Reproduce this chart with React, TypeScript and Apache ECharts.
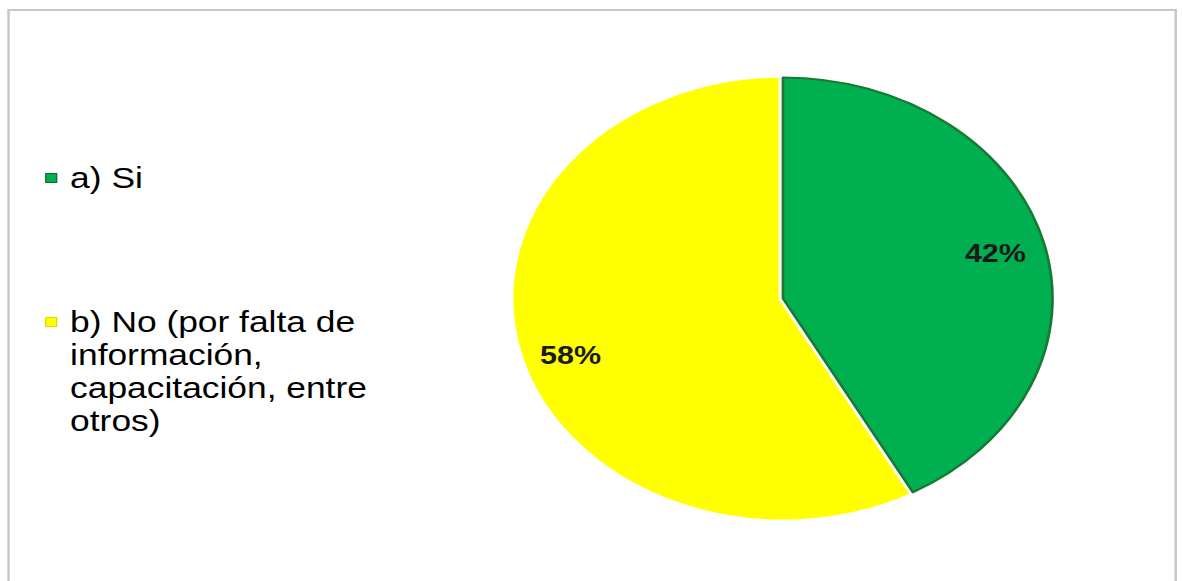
import React, { useEffect, useRef } from "react";
import * as echarts from "echarts";

const categories = [
  "a) Si",
  "b) No (por falta de información, capacitación, entre otros)",
];
const values = [42, 58];
const colors = ["#00b050", "#ffff00"];
const edgeColors = ["#177a32", "#ecec00"];

const S = 1.2196;
const W = 970;
const H = 581;
const FONT = "'Liberation Sans', Arial, sans-serif";

function wrap(text: string, maxChars: number): string {
  const words = text.split(" ");
  const lines: string[] = [];
  let cur = "";
  for (const w of words) {
    if (!cur) cur = w;
    else if ((cur + " " + w).length <= maxChars) cur += " " + w;
    else {
      lines.push(cur);
      cur = w;
    }
  }
  if (cur) lines.push(cur);
  return lines.join("\n");
}

export default function App() {
  const ref = useRef<HTMLDivElement>(null);
  useEffect(() => {
    if (!ref.current) return;
    const chart = echarts.init(ref.current, null, { renderer: "svg" });
    const R = 221;
    const center = [642, 298.5];
    const layer = (show: number, extra: any) =>
      categories.map((name, i) => ({
        name,
        value: values[i],
        itemStyle:
          i === show
            ? { color: colors[i], ...extra }
            : { color: "transparent", borderWidth: 0 },
      }));
    const labelData = categories.map((name, i) => ({ name, value: values[i] }));
    const legendText = {
      fontFamily: FONT,
      fontSize: 29,
      lineHeight: 33,
      color: "#000000",
      padding: [0, 0, 0, 6],
    };
    const pieCommon = {
      type: "pie",
      center,
      startAngle: 90,
      clockwise: true,
      silent: true,
      label: { show: false },
      labelLine: { show: false },
      emphasis: { disabled: true },
    };
    chart.setOption({
      animation: false,
      backgroundColor: "#ffffff",
      graphic: [
        {
          type: "rect",
          shape: { x: 7, y: 10, width: 957, height: 620 },
          style: { fill: "none", stroke: "#c6c6c6", lineWidth: 2 },
          silent: true,
        },
      ],
      legend: [
        {
          orient: "vertical",
          left: 37,
          top: 161.5,
          padding: 0,
          itemWidth: 9,
          itemHeight: 9,
          icon: "rect",
          data: [
            {
              name: categories[0],
              itemStyle: { color: colors[0], borderColor: "#0a6b2a", borderWidth: 1 },
            },
          ],
          textStyle: legendText,
        },
        {
          orient: "vertical",
          left: 37,
          top: 206.5,
          padding: 0,
          itemWidth: 9,
          itemHeight: 9,
          icon: "rect",
          formatter: (name: string) => "\n\n\n" + wrap(name, 20),
          data: [
            {
              name: categories[1],
              itemStyle: { color: colors[1], borderColor: "#d8d800", borderWidth: 1 },
            },
          ],
          textStyle: legendText,
        },
      ],
      series: [
        {
          ...pieCommon,
          name: "yellow",
          radius: R + 3.5,
          data: layer(1, { borderColor: "#ffffff", borderWidth: 7 }),
        },
        {
          ...pieCommon,
          name: "green",
          radius: R,
          data: layer(0, { borderColor: edgeColors[0], borderWidth: 2.2 }),
        },
        {
          ...pieCommon,
          name: "labels",
          radius: [R * 0.6, R],
          itemStyle: { color: "transparent", borderWidth: 0 },
          label: {
            show: true,
            position: "inside",
            formatter: "{d}%",
            fontFamily: FONT,
            fontSize: 25,
            fontWeight: "bold",
            color: "#1a1a1a",
          },
          labelLayout: (p: any) => (p.dataIndex === 1 ? { dy: 12 } : {}),
          data: labelData,
        },
      ],
    });
    return () => chart.dispose();
  }, []);
  return (
    <div
      ref={ref}
      style={{
        position: "absolute",
        left: 0,
        top: 0,
        width: W,
        height: H,
        transform: `scaleX(${S})`,
        transformOrigin: "0 0",
      }}
    />
  );
}
